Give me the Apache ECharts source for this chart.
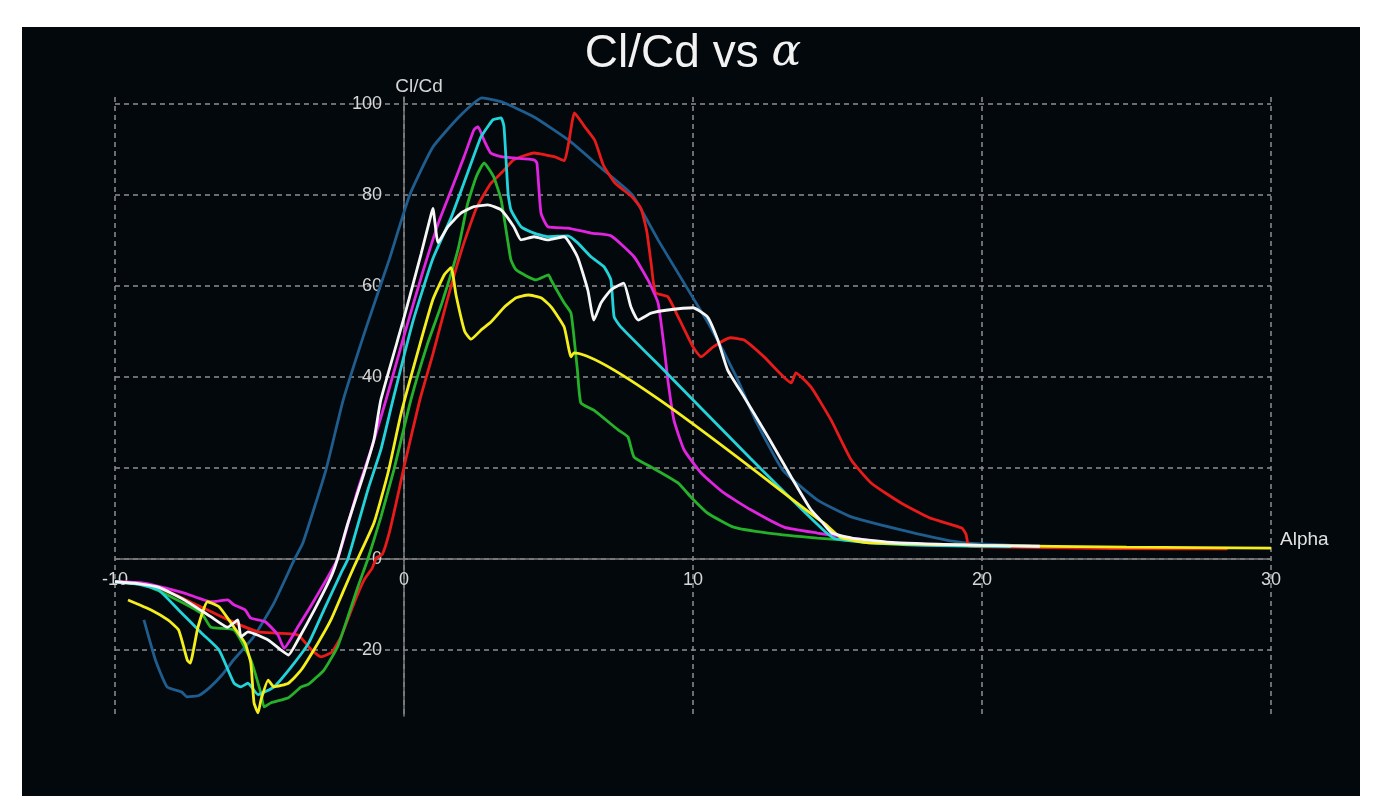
<!DOCTYPE html>
<html><head><meta charset="utf-8">
<script src="https://cdn.jsdelivr.net/npm/echarts@6/dist/echarts.min.js"></script>
<style>
html,body{margin:0;padding:0;background:#ffffff;}
#bg{position:absolute;left:22px;top:27px;width:1338px;height:769px;background:#03080c;}
#chart{position:absolute;left:0;top:0;width:1386px;height:808px;}
</style></head><body>
<div id="bg"></div><div id="chart"></div>
<script>
// ---- data (alpha in degrees, Cl/Cd) ----
const xMin = -10, xMax = 30, xStep = 10;
const yMin = -34.5, yMax = 101.5, yStep = 20;
const hiddenYLabels = [20]; // covered by the curves in the original

const blueAlpha = [-9.0,-8.6,-8.2,-7.7,-7.5,-7.1,-6.7,-6.3,-5.9,-5.2,-4.5,-3.8,-3.5,-2.7,-2.1,-1.3,-0.5,0.2,1.0,1.9,2.7,3.4,4.5,5.7,6.8,7.9,8.8,9.75,10.6,11.5,12.2,13.1,14.3,15.5,17.2,18.9,20.0,21.7];
const blueClCd  = [-13.4,-22.2,-28.1,-29.2,-30.3,-30.0,-28.1,-25.5,-22.2,-17.1,-9.7,-0.2,3.5,19.6,35,51,66,80,90.5,97.1,101.3,100.4,97.1,92,86,80,70,60,51,40,30,19.6,13,9.2,6.4,4.0,3.3,2.8];

const redAlpha = [-10,-9,-8,-7,-6,-5.05,-4.4,-3.67,-3.2,-2.87,-2.5,-2.18,-1.73,-1.38,-1.1,-0.95,-0.75,-0.5,-0.17,0,0.55,1.0,1.5,2.0,2.5,3.0,3.4,3.8,4.5,5.2,5.55,5.7,5.9,6.25,6.6,6.9,7.3,7.9,8.2,8.4,8.55,8.7,9.13,9.5,10.0,10.28,10.7,11.3,11.77,12.46,13.4,13.56,14.08,14.78,15.47,16.16,17.2,18.2,19.3,19.45,19.55,21,24.5,28.5];
const redClCd  = [-5,-5.4,-7.6,-10.6,-13.6,-16,-16.3,-16.7,-20,-21.5,-20.5,-17.1,-9.7,-4.6,-2.0,0.3,1.0,6,15.2,20.2,35,45,57,68,77,82.5,85,87.7,89.2,88.4,87.5,91.5,98,95,92,86.5,82.6,79.5,77,72,65,58.5,57.6,53,46.6,44.4,46.6,48.6,48.1,44.4,38.7,40.9,37.8,30.5,21.8,16.7,12.3,9,6.8,5.4,2.8,2.6,2.3,2.2];

const greenAlpha = [-10,-9,-8,-7,-6.68,-5.88,-5.3,-4.95,-4.84,-4.6,-4.0,-3.56,-3.3,-2.77,-2.3,-1.94,-1.6,-1.25,-0.8,-0.35,0.24,0.8,1.3,1.87,2.2,2.5,2.77,3.1,3.36,3.6,3.7,3.88,4.57,5.0,5.09,5.54,5.78,6.0,6.12,6.57,7.4,7.75,7.96,8.55,9.48,9.93,10.5,11.4,12.6,14.3,16,18,21];
const greenClCd  = [-5,-5.7,-8.5,-12,-15,-15.6,-22.2,-29.5,-32.5,-31.6,-30.5,-28.1,-27.5,-24.4,-19.3,-12.7,-6.2,0,9.2,19.6,35,47,56,68,78,84,87,84,78.9,69.5,65.7,63.5,61.3,62.4,61.3,56.3,54,41.5,34.3,32.7,28.4,26.8,22.4,20.2,16.7,13.6,10.1,7,5.7,4.6,3.8,3.2,2.8];

const magentaAlpha = [-10,-9,-7.6,-6.68,-6.1,-5.9,-5.5,-5.3,-4.8,-4.36,-4.15,-3.67,-3.1,-2.3,-1.6,-1.14,-0.62,0,0.6,1.2,1.63,2.08,2.42,2.56,2.77,3.0,3.36,3.8,4.5,4.6,4.74,4.98,5.67,6.47,7.16,7.96,8.44,8.79,9.0,9.13,9.34,9.69,10.28,11.07,12.0,13.15,14.3,15.5,17,19];
const magentaClCd  = [-5,-5.3,-7.5,-9.4,-9,-10,-11.2,-13,-13.8,-16.7,-19.6,-14.9,-9,0,15.2,24,35,49,62,74,81,88.4,94.3,95,92,89.2,88.4,88.1,87.7,87,76,73,72.7,71.6,71,66.4,61.3,56.3,46.6,39.3,30.5,24,18.9,14.5,10.8,7,5.7,4.6,3.5,3.0];

const cyanAlpha = [-10,-9.2,-8.5,-7.8,-7.0,-6.4,-5.88,-5.64,-5.4,-5.05,-4.5,-3.9,-3.3,-2.77,-2.18,-1.94,-1.25,-0.8,-0.38,0.3,1.0,1.63,2.2,2.66,2.9,3.08,3.36,3.46,3.6,3.7,4.05,4.5,4.98,5.67,6.0,6.47,6.92,7.16,7.27,7.5,9.13,12.0,14.5,14.9,16,18,21];
const cyanClCd  = [-5,-5.5,-6.8,-11.2,-16.3,-20,-27.3,-28.1,-27.3,-29.8,-28.1,-23.7,-18.5,-11.2,-3.1,0,15.2,24,35,52,66,75,84.8,92.7,95,96.5,96.9,95,80.4,76.7,73,71.6,70.8,71,69.5,66.4,64.2,61.3,53.2,51,40.6,22,6.4,4.5,3.6,3.0,2.7];

const yellowAlpha = [-9.55,-8.75,-8.17,-7.8,-7.5,-7.4,-7.13,-6.8,-6.4,-5.88,-5.5,-5.3,-5.19,-5.05,-4.95,-4.7,-4.5,-4.0,-3.56,-2.98,-2.53,-2.08,-1.73,-1.04,-0.55,-0.1,0.5,1.0,1.4,1.63,1.8,2.1,2.32,2.7,3.0,3.5,3.88,4.3,4.74,5.09,5.54,5.78,5.88,14.53,15.1,16,20,25,30];
const yellowClCd  = [-9,-11.2,-13.4,-15.6,-22.2,-22.9,-15,-9.4,-10.5,-15,-18.5,-22.9,-31.6,-33.8,-31,-26.6,-28.1,-27.3,-24.4,-18.5,-13.4,-6.8,-1.7,7.9,19,32,46,57,62.5,64,58,50,48.3,50.5,52,55.5,57.4,58,57.4,55.4,51,44.4,45.3,7.9,4.8,3.6,3.0,2.6,2.4];

const whiteAlpha = [-10,-9.2,-8.5,-7.6,-6.68,-6.1,-5.75,-5.64,-5.4,-4.7,-4.26,-4.0,-3.67,-3.1,-2.53,-2.3,-1.94,-1.38,-1.04,-0.8,0,0.59,0.93,1.0,1.18,1.52,1.97,2.42,2.9,3.36,3.8,4.05,4.5,4.98,5.54,6.0,6.36,6.57,6.82,7.16,7.6,7.85,8.1,8.55,9.13,10.0,10.5,10.86,11.2,11.77,12.6,13.4,14.08,14.4,14.8,15.5,17,20,22];
const whiteClCd  = [-5,-5.4,-6.2,-9,-12.7,-15,-13.4,-17.1,-16,-17.8,-20,-21.1,-17.8,-11.2,-4,0,7.9,18.9,26.2,35,53,67,75.5,77,69.5,73,76,77.4,77.8,76.7,73,70.1,70.8,70.1,70.8,66.4,59.1,52.5,56.3,59.1,60.6,55.4,52.5,54,54.7,55.2,53.2,48.1,41.5,35.6,26.8,18,10.8,8.6,5.7,4.6,3.6,3.0,2.8];

function pairs(xs, ys) { return xs.map((x, i) => [x, ys[i]]); }

const curves = [
  { alpha: blueAlpha, clcd: blueClCd, color: '#1f5d8e' },
  { alpha: redAlpha, clcd: redClCd, color: '#e81a1a' },
  { alpha: greenAlpha, clcd: greenClCd, color: '#26b12a' },
  { alpha: magentaAlpha, clcd: magentaClCd, color: '#e024e0' },
  { alpha: cyanAlpha, clcd: cyanClCd, color: '#22d4da' },
  { alpha: yellowAlpha, clcd: yellowClCd, color: '#f4ef1c' },
  { alpha: whiteAlpha, clcd: whiteClCd, color: '#f6f6f6' }
];

// ---- layout ----
const W = 1386, H = 808;
const G = { left: 115, right: 115, top: 97, bottom: 92 };
const gw = W - G.left - G.right, gh = H - G.top - G.bottom;
// axes cross at zero: shift the axes from the grid edges to the zero lines
const xAxisOffset = -(gh * (0 - yMin) / (yMax - yMin));
const yAxisOffset = -(gw * (0 - xMin) / (xMax - xMin));

const chart = echarts.init(document.getElementById('chart'), null, { renderer: 'canvas' });
const gridLine = { color: '#8e8e8e', type: [5, 4], width: 1.5 };
const axisCol = '#7d7d7d';
const labelCol = '#d6d6d6';
const font = 'Liberation Sans, Arial, sans-serif';

chart.setOption({
  backgroundColor: 'transparent',
  animation: false,
  title: {
    text: 'Cl/Cd vs {a|α}',
    left: 'center',
    top: 26,
    textStyle: {
      color: '#f2f2f2', fontSize: 46, fontWeight: 'normal', fontFamily: font,
      rich: { a: { color: '#f2f2f2', fontSize: 44, fontStyle: 'italic', fontFamily: 'DejaVu Serif, serif' } }
    }
  },
  grid: { left: G.left, right: G.right, top: G.top, bottom: G.bottom, outerBoundsMode: 'none' },
  xAxis: {
    type: 'value', min: xMin, max: xMax, interval: xStep,
    position: 'bottom', offset: xAxisOffset,
    name: 'Alpha', nameLocation: 'end', nameGap: 9,
    nameTextStyle: { color: '#e2e2e2', fontSize: 19, fontFamily: font, verticalAlign: 'bottom', padding: [0, 0, 10, 0] },
    axisLine: { onZero: false, lineStyle: { color: axisCol, width: 1.5 } },
    axisTick: { show: false },
    axisLabel: { color: labelCol, fontSize: 18, fontFamily: font, margin: 12 },
    splitLine: { show: true, lineStyle: gridLine }
  },
  yAxis: {
    type: 'value', min: yMin, max: yMax, minInterval: yStep, maxInterval: yStep,
    position: 'left', offset: yAxisOffset,
    name: 'Cl/Cd', nameLocation: 'end', nameGap: 1,
    nameTextStyle: { color: labelCol, fontSize: 19, fontFamily: font, padding: [0, 0, 0, 30] },
    axisLine: { onZero: false, lineStyle: { color: axisCol, width: 1.5 } },
    axisTick: { show: false },
    axisLabel: {
      color: labelCol, fontSize: 18, fontFamily: font, margin: 22,
      showMinLabel: false, showMaxLabel: false,
      formatter: v => (hiddenYLabels.includes(v) ? '' : String(v))
    },
    splitLine: { show: true, showMinLine: false, showMaxLine: false, lineStyle: gridLine }
  },
  series: curves.map(c => ({
    type: 'line',
    data: pairs(c.alpha, c.clcd),
    showSymbol: false,
    symbol: 'none',
    smooth: 0.15,
    lineStyle: { color: c.color, width: 2.8 },
    itemStyle: { color: c.color }
  }))
});
</script></body></html>
